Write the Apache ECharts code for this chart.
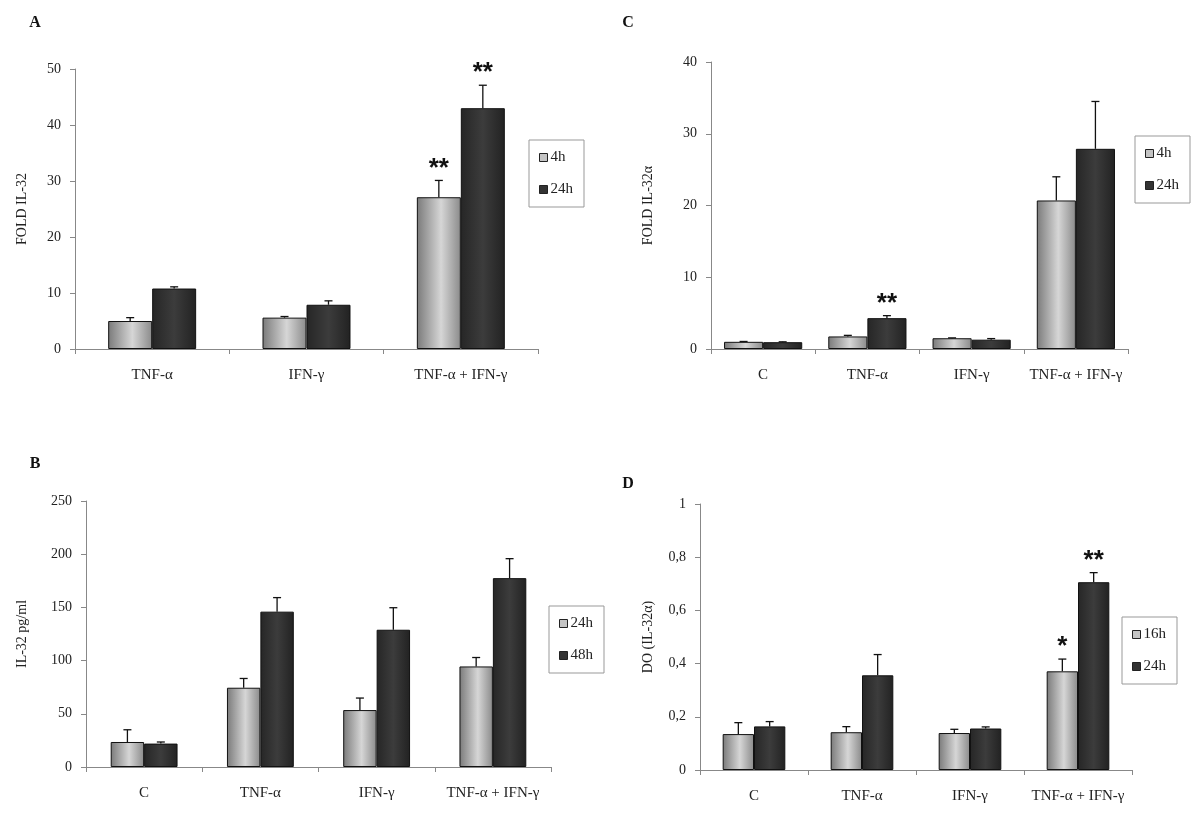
<!DOCTYPE html>
<html>
<head>
<meta charset="utf-8">
<script src="https://cdn.jsdelivr.net/npm/echarts@6/dist/echarts.min.js"></script>
<style>html,body{margin:0;padding:0;background:#fff}#c{width:1200px;height:816px}</style>
</head>
<body>
<div id="c"></div>
<script>
// ---- Data ----
const catsA = ['TNF-α', 'IFN-γ', 'TNF-α + IFN-γ'];
const catsBCD = ['C', 'TNF-α', 'IFN-γ', 'TNF-α + IFN-γ'];

// Panel A: FOLD IL-32
const a4h = [5.0, 5.6, 27.1];
const a4hErr = [0.6, 0.2, 3.0];
const a4hSig = ['', '', '**'];
const a24h = [10.8, 7.9, 43.0];
const a24hErr = [0.3, 0.7, 4.1];
const a24hSig = ['', '', '**'];

// Panel C: FOLD IL-32α
const c4h = [1.0, 1.75, 1.5, 20.7];
const c4hErr = [0.05, 0.15, 0.05, 3.3];
const c4hSig = ['', '', '', ''];
const c24h = [0.95, 4.3, 1.3, 27.9];
const c24hErr = [0.05, 0.35, 0.15, 6.6];
const c24hSig = ['', '**', '', ''];

// Panel B: IL-32 pg/ml
const b24h = [23.5, 74.5, 53.5, 94.5];
const b24hErr = [11.5, 8.7, 11.3, 8.4];
const b24hSig = ['', '', '', ''];
const b48h = [22, 146, 129, 177.5];
const b48hErr = [1.5, 13.2, 20.7, 18.3];
const b48hSig = ['', '', '', ''];

// Panel D: DO (IL-32α)
const d16h = [0.135, 0.142, 0.139, 0.371];
const d16hErr = [0.043, 0.021, 0.014, 0.046];
const d16hSig = ['', '', '', '*'];
const d24h = [0.164, 0.356, 0.156, 0.706];
const d24hErr = [0.018, 0.078, 0.006, 0.036];
const d24hSig = ['', '', '', '**'];

// ---- Styles ----
const SERIF = '"Liberation Serif", "Times New Roman", serif';
const lightFill = new echarts.graphic.LinearGradient(0, 0, 1, 0, [
  {offset: 0, color: '#7a7a7a'}, {offset: 0.55, color: '#d6d6d6'}, {offset: 1, color: '#8a8a8a'}
]);
const darkFill = new echarts.graphic.LinearGradient(0, 0, 1, 0, [
  {offset: 0, color: '#262626'}, {offset: 0.5, color: '#3c3c3c'}, {offset: 1, color: '#222'}
]);

const chart = echarts.init(document.getElementById('c'), null, {renderer: 'canvas'});

const grids = [
  {left: 75, top: 69, width: 463, height: 280},   // A
  {left: 711, top: 62, width: 417, height: 287},  // C
  {left: 86, top: 501, width: 465, height: 266},  // B
  {left: 700, top: 504, width: 432, height: 266}  // D
];
const gaps = [0.43, 0.25, 0.425, 0.42];

function xAxis(i, cats) {
  return {
    type: 'category', gridIndex: i, data: cats,
    axisLine: {lineStyle: {color: '#888', width: 1}},
    axisTick: {show: true, length: 5, lineStyle: {color: '#888'}},
    axisLabel: {fontFamily: SERIF, fontSize: 15, color: '#222', margin: 19, interval: 0}
  };
}
function yAxis(i, max, interval, name, nameGap, fmt) {
  return {
    type: 'value', gridIndex: i, min: 0, max: max, interval: interval,
    name: name, nameLocation: 'middle', nameRotate: 90, nameGap: nameGap,
    nameTextStyle: {fontFamily: SERIF, fontSize: 14, color: '#222'},
    axisLine: {show: true, lineStyle: {color: '#888', width: 1}},
    axisTick: {show: true, length: 5, lineStyle: {color: '#888'}},
    axisLabel: {fontFamily: SERIF, fontSize: 14, color: '#222', margin: 14, formatter: fmt},
    splitLine: {show: false}
  };
}

function barSeries(name, i, vals, fill, gap) {
  return {
    type: 'bar', name: name, xAxisIndex: i, yAxisIndex: i, data: vals,
    barGap: '0%', barCategoryGap: (gap * 100) + '%',
    itemStyle: {color: fill, borderColor: '#111', borderWidth: 1},
    z: 2
  };
}

function errSeries(i, vals, errs, sigs, side, gap) {
  return {
    type: 'custom', xAxisIndex: i, yAxisIndex: i, z: 5, clip: false, silent: true,
    data: vals.map((v, k) => [k, v, errs[k]]),
    renderItem: function (params, api) {
      const cat = api.value(0), v = api.value(1), e = api.value(2);
      const band = api.size([1, 0])[0];
      const bw = band * (1 - gap) / 2;
      const p0 = api.coord([cat, v]);
      const p1 = api.coord([cat, v + e]);
      const x = p0[0] + side * bw / 2;
      const children = [
        {type: 'line', shape: {x1: x, y1: p0[1], x2: x, y2: p1[1]}, style: {stroke: '#111', lineWidth: 1.3}},
        {type: 'line', shape: {x1: x - 4, y1: p1[1], x2: x + 4, y2: p1[1]}, style: {stroke: '#111', lineWidth: 1.3}}
      ];
      const s = sigs[params.dataIndex];
      if (s) {
        children.push({type: 'text', x: x, y: p1[1] + 1,
          style: {text: s, fontFamily: '"Liberation Sans", Arial, sans-serif', fontWeight: 'bold', fontSize: 26,
            fill: '#111', align: 'center', verticalAlign: 'bottom'}});
      }
      return {type: 'group', children: children};
    }
  };
}

function legend(left, top, items) {
  return {
    left: left, top: top, orient: 'vertical', selectedMode: false,
    borderColor: '#999', borderWidth: 1, backgroundColor: '#fff',
    padding: [10, 11, 10, 10], itemWidth: 8, itemHeight: 8, itemGap: 17,
    icon: 'rect',
    textStyle: {fontFamily: SERIF, fontSize: 15, color: '#222', padding: [0, 0, 0, -2]},
    data: items.map(it => ({name: it[0], icon: 'rect',
      itemStyle: {color: it[1] ? '#c4c4c4' : '#333', borderColor: '#222', borderWidth: 1}}))
  };
}

const option = {
  animation: false,
  backgroundColor: '#fff',
  grid: grids,
  xAxis: [xAxis(0, catsA), xAxis(1, catsBCD), xAxis(2, catsBCD), xAxis(3, catsBCD)],
  yAxis: [
    yAxis(0, 50, 10, 'FOLD IL-32', 46),
    yAxis(1, 40, 10, 'FOLD IL-32α', 56),
    yAxis(2, 250, 50, 'IL-32 pg/ml', 57),
    yAxis(3, 1, 0.2, 'DO (IL-32α)', 45, v => String(+v.toFixed(1)).replace('.', ','))
  ],
  legend: [
    legend(529, 140, [['4h', true], ['24h', false]]),
    legend(1135, 136, [['4h', true], ['24h', false]]),
    legend(549, 606, [['24h', true], ['48h', false]]),
    legend(1122, 617, [['16h', true], ['24h', false]])
  ],
  graphic: [
    {type: 'text', x: 35, y: 23, style: {text: 'A', fontFamily: SERIF, fontWeight: 'bold', fontSize: 16, fill: '#111', align: 'center', verticalAlign: 'middle'}},
    {type: 'text', x: 628, y: 23, style: {text: 'C', fontFamily: SERIF, fontWeight: 'bold', fontSize: 16, fill: '#111', align: 'center', verticalAlign: 'middle'}},
    {type: 'text', x: 35, y: 464, style: {text: 'B', fontFamily: SERIF, fontWeight: 'bold', fontSize: 16, fill: '#111', align: 'center', verticalAlign: 'middle'}},
    {type: 'text', x: 628, y: 484, style: {text: 'D', fontFamily: SERIF, fontWeight: 'bold', fontSize: 16, fill: '#111', align: 'center', verticalAlign: 'middle'}}
  ],
  series: [
    barSeries('4h', 0, a4h, lightFill, gaps[0]),
    barSeries('24h', 0, a24h, darkFill, gaps[0]),
    errSeries(0, a4h, a4hErr, a4hSig, -1, gaps[0]),
    errSeries(0, a24h, a24hErr, a24hSig, 1, gaps[0]),

    barSeries('4h', 1, c4h, lightFill, gaps[1]),
    barSeries('24h', 1, c24h, darkFill, gaps[1]),
    errSeries(1, c4h, c4hErr, c4hSig, -1, gaps[1]),
    errSeries(1, c24h, c24hErr, c24hSig, 1, gaps[1]),

    barSeries('24h', 2, b24h, lightFill, gaps[2]),
    barSeries('48h', 2, b48h, darkFill, gaps[2]),
    errSeries(2, b24h, b24hErr, b24hSig, -1, gaps[2]),
    errSeries(2, b48h, b48hErr, b48hSig, 1, gaps[2]),

    barSeries('16h', 3, d16h, lightFill, gaps[3]),
    barSeries('24h', 3, d24h, darkFill, gaps[3]),
    errSeries(3, d16h, d16hErr, d16hSig, -1, gaps[3]),
    errSeries(3, d24h, d24hErr, d24hSig, 1, gaps[3])
  ]
};
chart.setOption(option);
</script>
</body>
</html>
